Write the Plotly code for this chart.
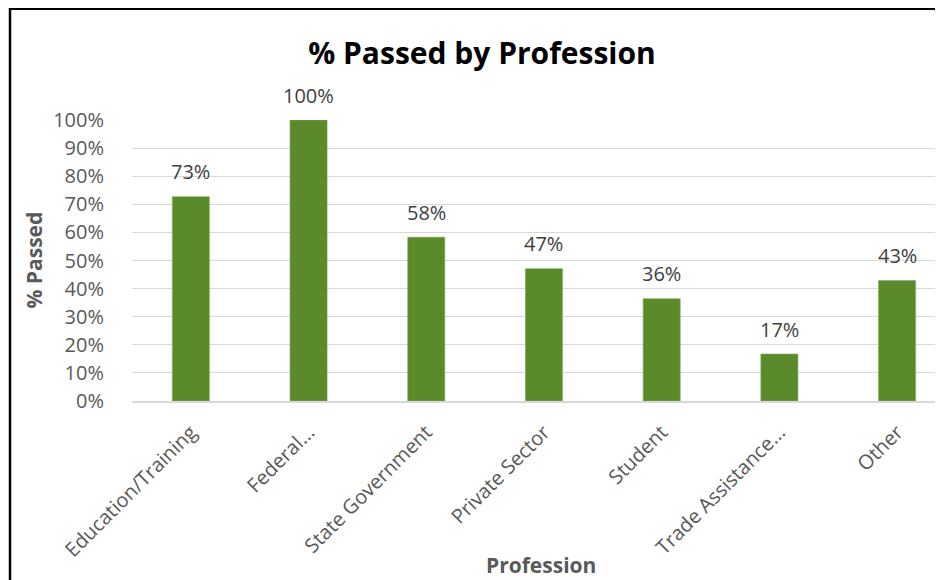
import plotly.graph_objects as go

categories = ["Education/Training", "Federal...", "State Government", "Private Sector",
              "Student", "Trade Assistance...", "Other"]
pct_passed = [0.727, 1.00, 0.583, 0.471, 0.364, 0.167, 0.429]
y_ticks = [0, 0.1, 0.2, 0.3, 0.4, 0.5, 0.6, 0.7, 0.8, 0.9, 1.0]
y_tick_labels = ["0%", "10%", "20%", "30%", "40%", "50%", "60%", "70%", "80%", "90%", "100%"]

# page body has an 8px margin, so the figure is laid out in coordinates offset by 8px
W, H = 935, 572
L, R, T, B = 124, 0, 112, 179
pw, ph = W - L - R, H - T - B
y0px = T + ph  # pixel row of 0%

font_main = "Open Sans"
green = "#5B8A2B"
txt = "#595959"

fig = go.Figure()
fig.add_trace(go.Bar(
    x=list(range(len(categories))), y=pct_passed,
    marker=dict(color=green, line=dict(color="#7FA95A", width=0.6)),
    width=0.315, hoverinfo="skip",
))

annotations = []
for i, v in enumerate(pct_passed):
    annotations.append(dict(x=i, y=v, xref="x", yref="y", text=f"{round(v*100)}%",
                            showarrow=False, yanchor="middle", yshift=25,
                            font=dict(family=font_main, size=20, color="#404040")))
annotations.append(dict(x=(25 - L) / pw, y=0.5, xref="paper", yref="paper", text="<b>% Passed</b>",
                        showarrow=False, textangle=-90, xanchor="center", yanchor="middle",
                        font=dict(family=font_main, size=21, color=txt)))
annotations.append(dict(x=(533 - L) / pw, y=(y0px - 557) / ph, xref="paper", yref="paper",
                        text="<b>Profession</b>", showarrow=False, xanchor="center", yanchor="middle",
                        font=dict(family=font_main, size=21, color=txt)))

shapes = [
    dict(type="line", xref="paper", yref="paper", x0=(2 - L) / pw, x1=(2 - L) / pw,
         y0=(y0px - 0) / ph, y1=(y0px - 600) / ph, line=dict(color="black", width=2.5)),
    dict(type="line", xref="paper", yref="paper", x0=(2 - L) / pw, x1=1.05,
         y0=(y0px - 0.5) / ph, y1=(y0px - 0.5) / ph, line=dict(color="black", width=3)),
]

fig.update_layout(
    width=W, height=H,
    margin=dict(l=L, r=R, t=T, b=B, pad=0),
    paper_bgcolor="white", plot_bgcolor="white",
    showlegend=False,
    title=dict(text="<b>% Passed by Profession</b>", x=474 / W, xanchor="center",
               y=1 - 45 / H, yanchor="middle", yref="container",
               font=dict(family="Open Sans", size=30, color="black")),
    xaxis=dict(range=[-0.5, 6.39], tickmode="array", tickvals=list(range(len(categories))),
               ticktext=categories, tickangle=-45, showgrid=False, zeroline=False,
               showline=True, linecolor="#D9D9D9", linewidth=1.5,
               ticks="outside", ticklen=10, tickcolor="rgba(0,0,0,0)",
               tickfont=dict(family=font_main, size=20, color=txt), fixedrange=True),
    yaxis=dict(range=[0, 1.0], tickmode="array", tickvals=y_ticks, ticktext=y_tick_labels,
               showgrid=True, gridcolor="#D9D9D9", gridwidth=1.2, zeroline=False,
               showline=False, ticks="outside", ticklen=23, tickcolor="rgba(0,0,0,0)",
               tickfont=dict(family=font_main, size=20, color=txt), fixedrange=True),
    annotations=annotations,
    shapes=shapes,
)

fig.write_html("out.html", config={"displayModeBar": False})
